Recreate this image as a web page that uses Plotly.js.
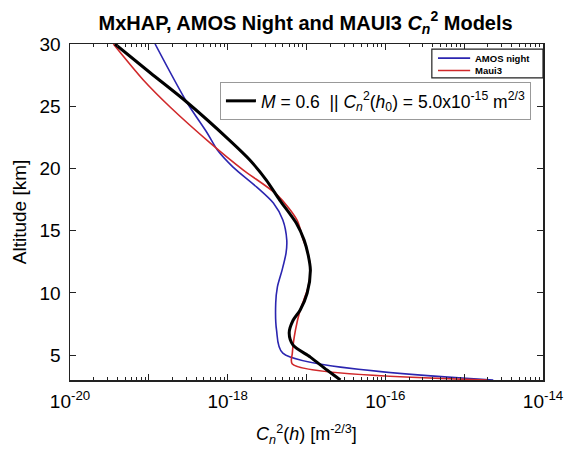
<!DOCTYPE html>
<html>
<head>
<meta charset="utf-8">
<script src="https://cdn.plot.ly/plotly-3.0.1.min.js"></script>
<style>html,body{margin:0;padding:0;background:#fff;}#chart{width:568px;height:455px;}</style>
</head>
<body>
<div id="chart"></div>
<script>
// Altitude [km] and Cn2 [m^-2/3]
const altAmos = [30, 25.34, 22.85, 21.48, 20.11, 18.5, 17.22, 15.85, 14.24, 13.2, 11.83, 10.47, 9.18, 7.01, 5.16, 3.0];
const cn2Amos = [1.20e-19, 3.02e-19, 5.50e-19, 7.41e-19, 1.17e-18, 2.34e-18, 3.80e-18, 5.01e-18, 5.62e-18, 5.50e-18, 4.90e-18, 4.27e-18, 4.07e-18, 4.17e-18, 5.01e-18, 2.34e-15];

const altMaui = [30, 27.11, 24.94, 22.04, 19.87, 17.86, 15.85, 14.24, 13.44, 11.83, 10.47, 8.62, 7.01, 5.16, 4.28, 3.0];
const cn2Maui = [3.55e-20, 8.51e-20, 1.86e-19, 6.03e-19, 1.58e-18, 4.27e-18, 7.59e-18, 9.12e-18, 1.02e-17, 1.12e-17, 1.05e-17, 8.32e-18, 7.24e-18, 6.61e-18, 6.61e-18, 1.95e-15];

const altHap = [30, 27.67, 25.34, 22.28, 20.68, 19.07, 17.46, 15.61, 14.24, 13.04, 11.83, 9.98, 8.62, 7.8, 6.77, 5.8, 4.84, 3.8, 3.0];
const cn2Hap = [3.72e-20, 1.05e-19, 3.02e-19, 1.05e-18, 1.91e-18, 3.09e-18, 4.57e-18, 7.41e-18, 9.33e-18, 1.05e-17, 1.12e-17, 1.02e-17, 8.32e-18, 6.76e-18, 6.03e-18, 6.76e-18, 1.12e-17, 1.82e-17, 2.69e-17];

const xMajorExp = [-20, -19, -18, -17, -16, -15, -14];
const xLabelExp = [-20, -18, -16, -14];
const yTicks = [5, 10, 15, 20, 25, 30];

const seriesNames = ['AMOS night', 'Maui3'];
const seriesColors = ['#2b25b0', '#d0282a'];
const hapName = '<i>M</i> = 0.6  || <i>C</i><sub><i>n</i></sub><sup>2</sup>(<i>h</i><sub>0</sub>) = 5.0x10<sup>-15</sup> m<sup>2/3</sup>';

const FONT = 'Liberation Sans, Arial, Helvetica, sans-serif';

const majorVals = xMajorExp.map(e => Math.pow(10, e));
const majorText = xMajorExp.map(e => xLabelExp.includes(e) ? '10<sup>' + e + '</sup>' : '');
const minorVals = [];
for (let e = -20; e < -14; e++) for (let m = 2; m <= 9; m++) minorVals.push(m * Math.pow(10, e));

const traces = [
  {x: cn2Amos, y: altAmos, type: 'scatter', mode: 'lines', name: seriesNames[0], showlegend: false,
   line: {color: seriesColors[0], width: 1.6, shape: 'spline', smoothing: 0.8}},
  {x: cn2Maui, y: altMaui, type: 'scatter', mode: 'lines', name: seriesNames[1], showlegend: false,
   line: {color: seriesColors[1], width: 1.6, shape: 'spline', smoothing: 0.8}},
  // model curve drawn on the overlaid (minor-tick) axis so it sits on top
  {x: cn2Hap, y: altHap, xaxis: 'x2', type: 'scatter', mode: 'lines', name: hapName, showlegend: true,
   line: {color: '#000000', width: 3, shape: 'spline', smoothing: 0.8}}
];

// small legend box (blue / red), drawn in paper coordinates
const lg = {x0: 0.765, x1: 1.0, y0: 0.899, y1: 0.985, rows: [0.958, 0.921], lx0: 0.778, lx1: 0.846, tx: 0.851};
const shapes = [
  {type: 'rect', xref: 'paper', yref: 'paper', x0: lg.x0, x1: lg.x1, y0: lg.y0, y1: lg.y1,
   line: {color: '#222', width: 1.2}, fillcolor: '#fff', layer: 'above'}
];
const annotations = [];
seriesNames.forEach((n, i) => {
  shapes.push({type: 'line', xref: 'paper', yref: 'paper', x0: lg.lx0, x1: lg.lx1, y0: lg.rows[i], y1: lg.rows[i],
               line: {color: seriesColors[i], width: 1.6}, layer: 'above'});
  annotations.push({xref: 'paper', yref: 'paper', x: lg.tx, y: lg.rows[i], xanchor: 'left', yanchor: 'middle',
                    text: '<b>' + n + '</b>', showarrow: false, font: {size: 9.5, family: FONT, color: '#000'}});
});

const axLine = {showline: true, linecolor: '#222', linewidth: 1.5, showgrid: false, zeroline: false};

const layout = {
  width: 568, height: 455,
  margin: {l: 70, r: 25, t: 44, b: 75},
  paper_bgcolor: '#ffffff', plot_bgcolor: '#ffffff',
  font: {family: FONT, color: '#000', size: 18},
  showlegend: true,
  title: {text: '<b>MxHAP, AMOS Night and MAUI3 <i>C</i><sub><i>n</i></sub><sup>2</sup> Models</b>',
          font: {size: 20, family: FONT}, x: 0.538, xanchor: 'center', y: 0.95, yanchor: 'middle'},
  xaxis: Object.assign({type: 'log', range: [-20, -14], tickvals: majorVals, ticktext: majorText,
          ticks: 'inside', ticklen: 6, tickcolor: '#222', mirror: 'ticks', tickfont: {size: 19},
          ticklabelstandoff: 4,
          title: {text: '<i>C</i><sub><i>n</i></sub><sup>2</sup>(<i>h</i>) [m<sup>-2/3</sup>]', font: {size: 18}, standoff: 16}}, axLine),
  xaxis2: Object.assign({type: 'log', range: [-20, -14], overlaying: 'x', anchor: 'y', side: 'bottom',
           tickvals: minorVals, ticks: 'inside', ticklen: 3, tickcolor: '#222', showticklabels: false,
           mirror: 'ticks'}, axLine),
  yaxis: Object.assign({range: [3, 30], tickvals: yTicks, ticks: 'inside', ticklen: 6, tickcolor: '#222',
          mirror: 'ticks', tickfont: {size: 19}, ticklabelstandoff: 4,
          title: {text: 'Altitude [km]', font: {size: 19}, standoff: 8}}, axLine),
  legend: {x: 0.317, xanchor: 'left', y: 0.887, yanchor: 'top', bgcolor: '#fff', bordercolor: '#999', borderwidth: 1,
           font: {size: 17.5, family: FONT}, itemwidth: 30},
  shapes: shapes,
  annotations: annotations
};

Plotly.newPlot('chart', traces, layout, {staticPlot: true, displayModeBar: false});
</script>
</body>
</html>
